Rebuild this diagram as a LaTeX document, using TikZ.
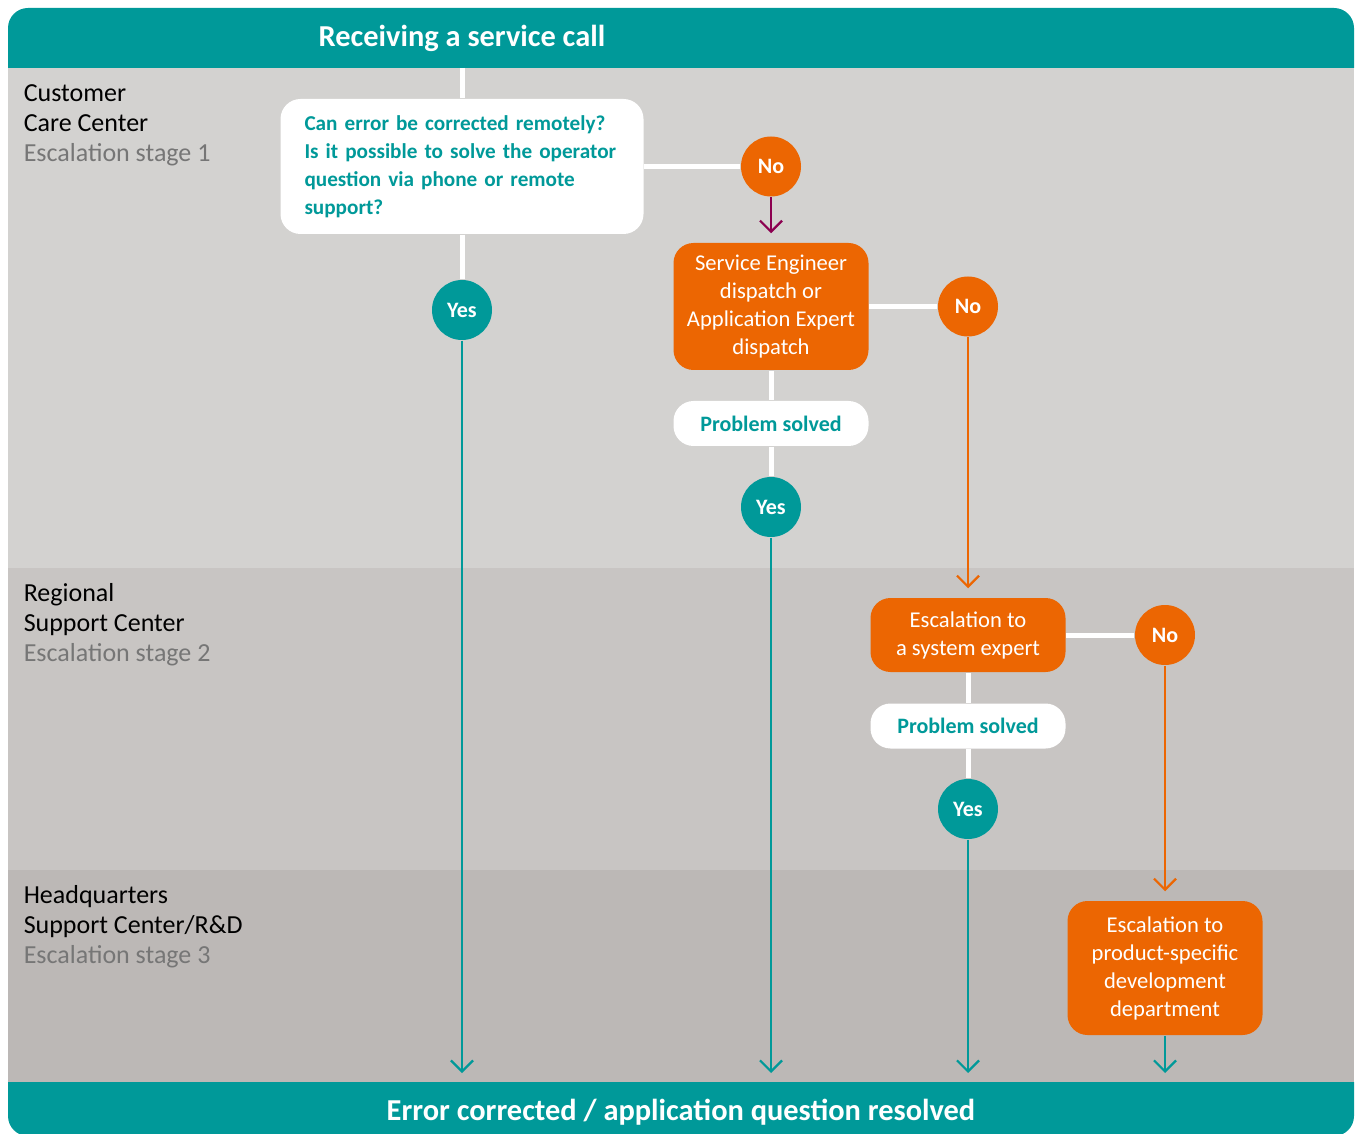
\documentclass[tikz,border=0pt]{standalone}
\usepackage{fontspec}
\setmainfont{Carlito}
\usetikzlibrary{arrows.meta}

\definecolor{hteal}{RGB}{0,153,153}
\definecolor{horange}{RGB}{236,102,2}
\definecolor{hberry}{RGB}{140,0,80}
\definecolor{hgrey}{RGB}{118,118,118}
\definecolor{laneA}{RGB}{211,210,208}
\definecolor{laneB}{RGB}{200,197,195}
\definecolor{laneC}{RGB}{188,184,182}

\tikzset{every picture/.style={line width=0.75pt}}
\tikzset{
  lanetext/.style={anchor=base west, inner sep=0pt, align=left, font=\fontsize{13}{15}\selectfont},
  answer/.style={circle, fill=hteal, text=white, minimum size=30pt, inner sep=0pt, font=\bfseries\fontsize{11}{13}\selectfont},
  yesdot/.style={answer},
  nodot/.style={answer, fill=horange},
  actbox/.style={rectangle, rounded corners=10pt, fill=horange, text=white, align=center, minimum width=97.5pt, inner sep=2pt, font=\fontsize{11.3}{14}\selectfont},
  solvedbox/.style={rectangle, rounded corners=10pt, fill=white, text=hteal, minimum width=97.5pt, minimum height=22.5pt, inner sep=0pt, font=\bfseries\fontsize{11}{13}\selectfont},
  link/.style={white, line width=2.5pt},
  flow/.style={line width=1.1pt, shorten >=4.5pt, -{Straight Barb[length=5.5pt,width=11pt,line width=1.1pt]}},
}

\begin{document}
\begin{tikzpicture}[x=0.5pt,y=0.5pt,yscale=-1]
\useasboundingbox (0,0) rectangle (1356,1134);

%Lanes
\fill [laneA] (8,68) rectangle (1354,568);
\fill [laneB] (8,568) rectangle (1354,870);
\fill [laneC] (8,870) rectangle (1354,1082);
%Header band
\fill [hteal] (8,68) [rounded corners=10pt] -- (8,8) -- (1354,8) [sharp corners] -- (1354,68) -- cycle;
%Footer band
\fill [hteal] (8,1082) [rounded corners=10pt] -- (8,1136) -- (1354,1136) [sharp corners] -- (1354,1082) -- cycle;

% Text Node
\node (start) [text=white, font=\bfseries\fontsize{15.2}{17}\selectfont] at (462,38) {Receiving a service call};
\coordinate (hdbase) at (462,68);
% Text Node
\node (footer) [text=white, font=\bfseries\fontsize{15.2}{17}\selectfont] at (681,1112) {Error corrected / application question resolved};
\coordinate (fttop) at (681,1082);

% Lane labels
\node (lane1) [lanetext] at (23,162) {Customer\\Care Center\\\textcolor{hgrey}{Escalation stage 1}};
\node (lane2) [lanetext] at (23,661) {Regional\\Support Center\\\textcolor{hgrey}{Escalation stage 2}};
\node (lane3) [lanetext] at (23,963) {Headquarters\\Support Center/R\&D\\\textcolor{hgrey}{Escalation stage 3}};

%Question box
\node (q) [rectangle, rounded corners=10pt, fill=white, text=hteal, align=left, text width=157.5pt, minimum height=67.5pt, inner xsep=12pt, inner ysep=3pt, font=\bfseries\fontsize{10.6}{14}\selectfont] at (462,166.5)
  {Can error be corrected remotely?\\Is it possible to solve the operator\\question via phone or remote\\support?};

%Answers
\node (no1) [nodot] at (771,166.5) {No};
\node (yes1) [yesdot] at (462,310) {Yes};
\node (sed) [actbox, minimum height=63.5pt] at (771,306.5) {Service Engineer\\dispatch or\\Application Expert\\dispatch};
\node (no2) [nodot] at (968,306.5) {No};
\node (ps1) [solvedbox] at (771,423.5) {Problem solved};
\node (yes2) [yesdot] at (771,507) {Yes};
\node (esc1) [actbox, minimum height=37pt] at (968,635) {Escalation to\\a system expert};
\node (no3) [nodot] at (1165,635) {No};
\node (ps2) [solvedbox] at (968,726) {Problem solved};
\node (yes3) [yesdot] at (968,809) {Yes};
\node (esc2) [actbox, minimum height=67pt] at (1165,968) {Escalation to\\product-specific\\development\\department};

%White links
\draw [link] (hdbase) -- (q.north);
\draw [link] (q.south) -- (yes1);
\draw [link] (q.east) -- (no1);
\draw [link] (sed.east) -- (no2);
\draw [link] (sed.south) -- (ps1.north);
\draw [link] (ps1.south) -- (yes2);
\draw [link] (esc1.east) -- (no3);
\draw [link] (esc1.south) -- (ps2.north);
\draw [link] (ps2.south) -- (yes3);
%Arrows
\draw [flow, hberry] (no1.south) -- (sed.north);
\draw [flow, horange] (no2.south) -- (esc1.north);
\draw [flow, horange] (no3.south) -- (esc2.north);
\draw [flow, hteal] (yes1.south) -- (yes1 |- fttop);
\draw [flow, hteal] (yes2.south) -- (yes2 |- fttop);
\draw [flow, hteal] (yes3.south) -- (yes3 |- fttop);
\draw [flow, hteal] (esc2.south) -- (esc2 |- fttop);
\end{tikzpicture}
\end{document}
